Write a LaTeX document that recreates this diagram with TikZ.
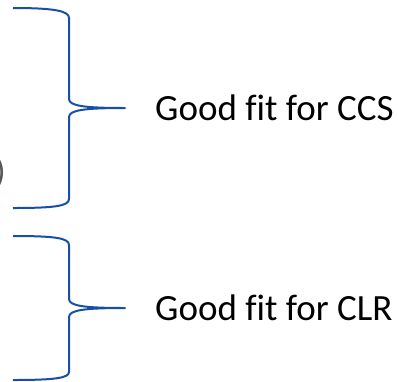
\documentclass[tikz,border=0pt]{standalone}
\usepackage{fontspec}
\setmainfont[Ligatures=NoCommon]{Carlito}
\definecolor{braceblue}{RGB}{22,78,168}
\definecolor{textgray}{RGB}{89,89,89}
\begin{document}
\begin{tikzpicture}[x=1pt,y=-1pt,
  bracestyle/.style={draw=braceblue,line width=2pt,line join=round},
  fitlabel/.style={anchor=base west,inner sep=0pt,font=\fontsize{37}{40}\selectfont,text=black}]
\useasboundingbox (0,0) rectangle (398,381);
\clip (0,0) rectangle (398,381);
% first brace
\coordinate (tipA) at (125,108);
\draw[bracestyle] (13,8) .. controls (55,8) and (69,11) .. (69,18)
  -- (69,99) .. controls (69,106) and (85,108) .. (tipA)
  .. controls (85,108) and (69,110) .. (69,117)
  -- (69,199) .. controls (69,206) and (55,208) .. (13,208);
% second brace
\coordinate (tipB) at (125,308);
\draw[bracestyle] (13,236) .. controls (55,236) and (69,238) .. (69,245)
  -- (69,299) .. controls (69,306) and (85,308) .. (tipB)
  .. controls (85,308) and (69,310) .. (69,317)
  -- (69,372) .. controls (69,378) and (55,380) .. (13,380);
% labels
\node[fitlabel] (ccs) at (155,120) {Good fit for CCS};
\node[fitlabel] (clr) at (155,320) {Good fit for CLR};
% closing parenthesis, mostly beyond the left edge
\node[anchor=base east,inner sep=0pt,font=\fontsize{36}{40}\selectfont,text=textgray] (paren) at (6,183) {)};
\end{tikzpicture}
\end{document}
